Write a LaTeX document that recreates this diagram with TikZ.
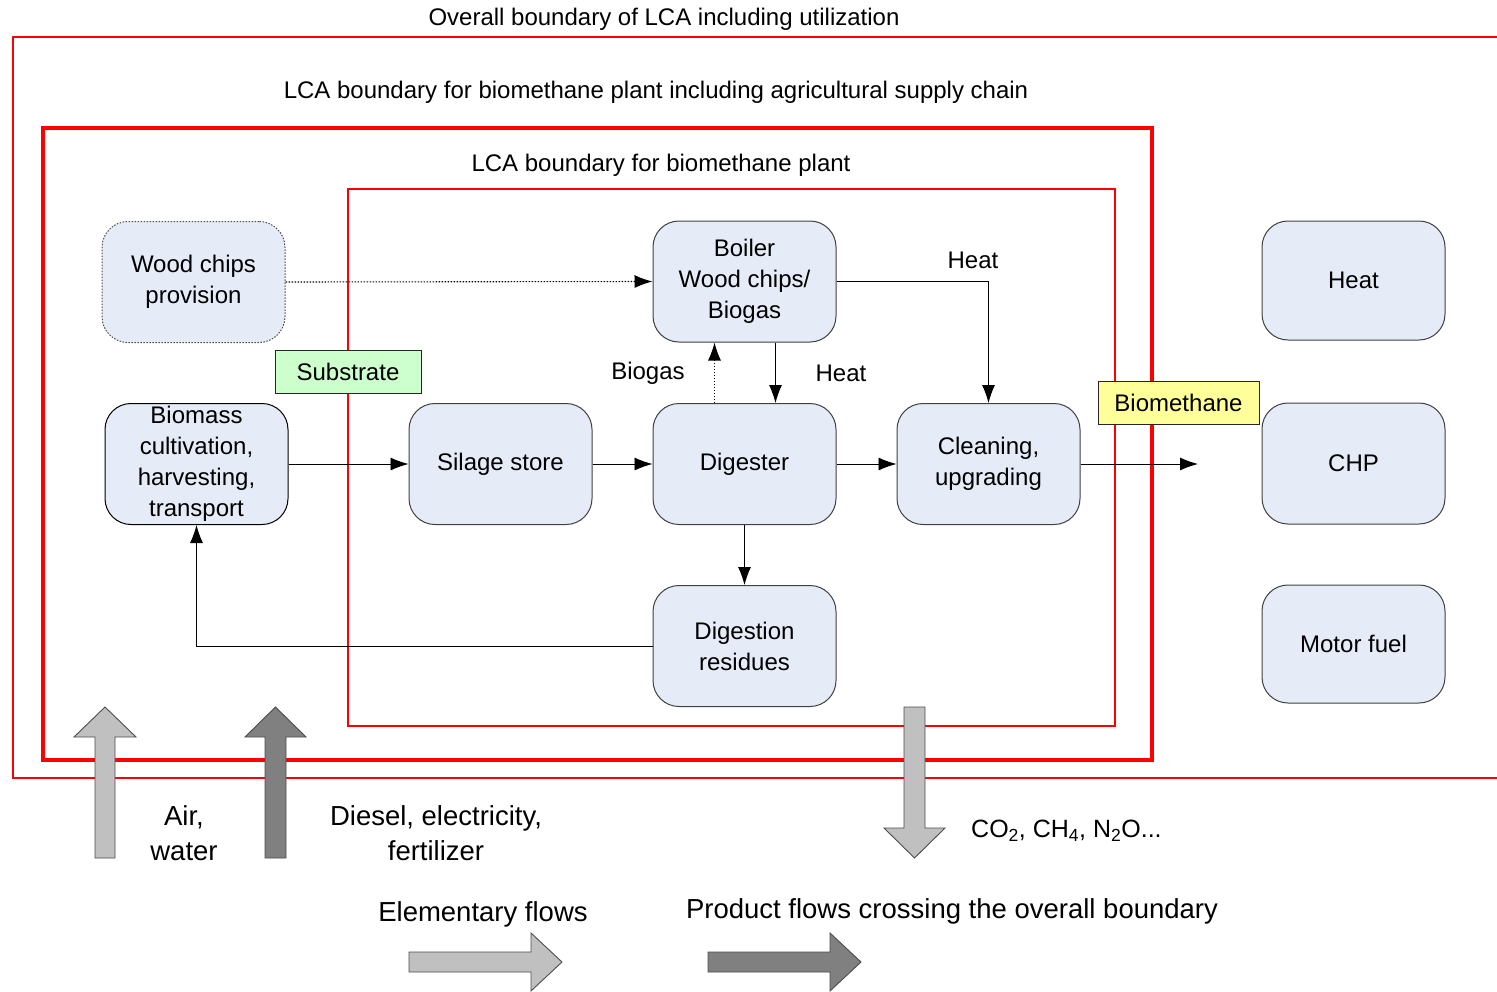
\documentclass[tikz,border=0pt]{standalone}
\usepackage{fontspec}
\setmainfont{Liberation Sans}
\usetikzlibrary{arrows.meta,calc}
\definecolor{boxfill}{HTML}{E6ECF7}
\definecolor{boxline}{HTML}{404040}
\definecolor{lgray}{HTML}{C0C0C0}
\definecolor{dgray}{HTML}{808080}
\definecolor{subgreen}{HTML}{CCFFCC}
\definecolor{bmyellow}{HTML}{FFFF99}
\tikzset{
  proc/.style={draw=boxline, line width=1pt, fill=boxfill, rounded corners=26pt,
    minimum width=183pt, minimum height=121pt, align=center,
    font=\fontsize{24}{31}\selectfont, inner sep=0pt},
  lbl/.style={font=\fontsize{24}{31}\selectfont, inner sep=0pt},
  biglbl/.style={font=\fontsize{27.5}{35}\selectfont, inner sep=0pt, align=center},
  tag/.style={draw=black!85, line width=1pt, align=center,
    font=\fontsize{24}{31}\selectfont, minimum height=43pt, inner sep=0pt},
  flow/.style={line width=0.9pt, -{Latex[length=18pt,width=13pt]}},
  dotflow/.style={line width=1.1pt, dash pattern=on 1.5pt off 1.5pt, -{Latex[length=18pt,width=13pt]}},
  bnd/.style={draw=red},
  fat/.style={draw=black!70, line width=0.9pt}
}
\begin{document}
\begin{tikzpicture}[x=1pt,y=-1pt]
\useasboundingbox (0,0) rectangle (1497,991);
% boundaries
\draw[bnd, line width=2.5pt] (1497,37) -- (13,37) -- (13,778) -- (1497,778);
\draw[bnd, line width=4.5pt] (43,128) rectangle (1152,760);
\draw[bnd, line width=2pt] (348,189) rectangle (1115,726);
% titles
\node[lbl] (t1) at (664,19.5) {Overall boundary of LCA including utilization};
\node[lbl] (t2) at (656,92.5) {LCA boundary for biomethane plant including agricultural supply chain};
\node[lbl] (t3) at (661,165.5) {LCA boundary for biomethane plant};
% process boxes
\node[proc, dash pattern=on 1.5pt off 1.5pt, draw=black!70] (wood) at (193.5,282) {Wood chips\\provision};
\node[proc, draw=black] (bio) at (196.5,464) {Biomass\\cultivation,\\harvesting,\\transport};
\node[proc] (sil) at (500.5,464) {Silage store};
\node[proc] (dig) at (744.5,464) {Digester};
\node[proc] (boil) at (744.5,281.5) {Boiler\\Wood chips/\\Biogas};
\node[proc] (clean) at (988.5,464) {Cleaning,\\upgrading};
\node[proc] (res) at (744.5,646) {Digestion\\residues};
\node[proc, minimum height=119pt] (heat) at (1353.5,280.5) {Heat};
\node[proc] (chp) at (1353.5,463.5) {CHP};
\node[proc, minimum height=118pt] (motor) at (1353.5,644) {Motor fuel};
% connectors
\coordinate (out) at (1198,464);
\draw[dotflow] (wood.east) -- (boil.west);
\draw[flow] (bio.east) -- (sil.west);
\draw[flow] (sil.east) -- (dig.west);
\draw[flow] (dig.east) -- (clean.west);
\draw[flow] (clean.east) -- (out);
\draw[flow] (dig.south) -- (res.north);
\draw[flow] (res.west) -| (bio.south);
\draw[flow] (boil.east) -| (clean.north);
\draw[flow] ($(boil.south)+(31,0)$) -- ($(dig.north)+(31,0)$);
\draw[dotflow] ($(dig.north)+(-30,0)$) -- ($(boil.south)+(-30,0)$);
% connector labels
\node[lbl] (lheat1) at (973,260) {Heat};
\node[lbl] (lheat2) at (841,373) {Heat};
\node[lbl] (lbiogas) at (648,373) {Biogas};
\node[tag, fill=subgreen, minimum width=146pt] (sub) at (348,371.5) {Substrate};
\node[tag, fill=bmyellow, minimum width=161pt] (bm) at (1178.5,402.5) {Biomethane};
% big arrows
\draw[fat, fill=lgray] (95,858) -- (95,737) -- (74,737) -- (105,707) -- (136,737) -- (115,737) -- (115,858) -- cycle;
\draw[fat, fill=dgray] (265,858) -- (265,737) -- (245,737) -- (275.5,707) -- (306,737) -- (286,737) -- (286,858) -- cycle;
\draw[fat, fill=lgray] (904,707) -- (904,828) -- (884,828) -- (914.5,858) -- (945,828) -- (925,828) -- (925,707) -- cycle;
\draw[fat, fill=lgray] (409,952) -- (531,952) -- (531,933) -- (562,962) -- (531,991) -- (531,972) -- (409,972) -- cycle;
\draw[fat, fill=dgray] (708,952) -- (830,952) -- (830,933) -- (861,962) -- (830,991) -- (830,972) -- (708,972) -- cycle;
% flow labels
\node[biglbl] (air) at (184,833) {Air,\\water};
\node[biglbl] (diesel) at (436,833) {Diesel, electricity,\\fertilizer};
\node[biglbl, anchor=west, font=\fontsize{25}{31}\selectfont] (emis) at (971,831) {CO\textsubscript{2}, CH\textsubscript{4}, N\textsubscript{2}O...};
\node[biglbl] (elem) at (483,914) {Elementary flows};
\node[biglbl] (prod) at (952,911) {Product flows crossing the overall boundary};
\end{tikzpicture}
\end{document}
